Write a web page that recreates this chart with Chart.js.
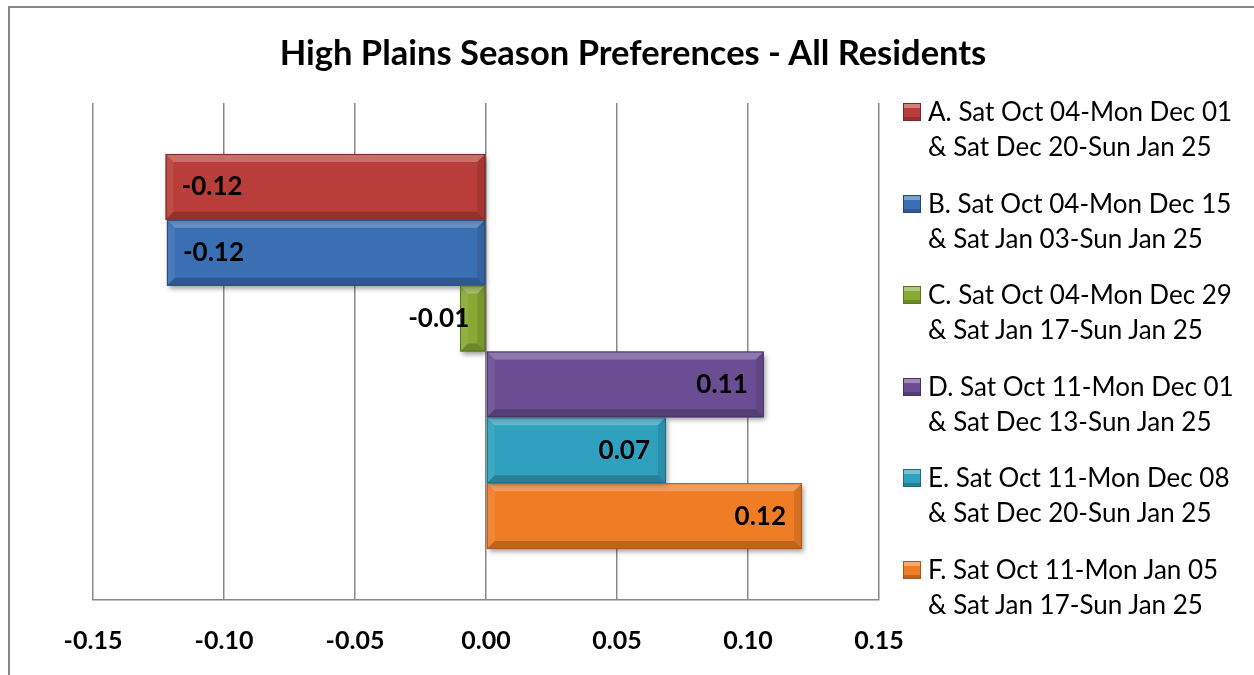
<!DOCTYPE html>
<html>
<head>
<meta charset="utf-8">
<script src="https://cdn.jsdelivr.net/npm/chart.js@4.4.1/dist/chart.umd.min.js"></script>
<style>
  body { margin: 0; background: #fff; font-family: Lato, "Open Sans", sans-serif; }
  #wrap { position: relative; width: 1254px; height: 675px; overflow: hidden; }
  #frame { position: absolute; left: 8px; top: 6px; width: 1400px; height: 800px;
           border-left: 2px solid #878787; border-top: 2px solid #878787; }
  #c { position: absolute; left: 0; top: 0; }
  #title { position: absolute; left: 0; width: 1266px; top: 32px; text-align: center;
           font: bold 34.5px/40px Lato, sans-serif; color: #000; white-space: nowrap; }
  .item { position: absolute; left: 903px; }
  .swatch { position: absolute; left: 0; width: 18px; height: 18px; box-sizing: border-box; }
  .text { position: absolute; left: 25px; top: 0; font: 26px/35px Lato, sans-serif;
          color: #000; white-space: nowrap; }
</style>
</head>
<body>
<div id="wrap">
  <div id="frame"></div>
  <canvas id="c" width="1254" height="675"></canvas>
  <div id="title"></div>
  <div id="legend"></div>
</div>
<script>
const chartTitle = "High Plains Season Preferences - All Residents";
const categories = [""];
const seriesNames = [
  ["A. Sat Oct 04-Mon Dec 01", "& Sat Dec 20-Sun Jan 25"],
  ["B. Sat Oct 04-Mon Dec 15", "& Sat Jan 03-Sun Jan 25"],
  ["C. Sat Oct 04-Mon Dec 29", "& Sat Jan 17-Sun Jan 25"],
  ["D. Sat Oct 11-Mon Dec 01", "& Sat Dec 13-Sun Jan 25"],
  ["E. Sat Oct 11-Mon Dec 08", "& Sat Dec 20-Sun Jan 25"],
  ["F. Sat Oct 11-Mon Jan 05", "& Sat Jan 17-Sun Jan 25"],
];
const seriesValues = [-0.1223, -0.1218, -0.0099, 0.106, 0.0687, 0.1206];
const seriesColors = ["#b93d3a", "#3b6fb4", "#88a934", "#6b4d93", "#2fa0be", "#ee7d26"];
const seriesBorders = ["#7d2624", "#264a7a", "#5b7322", "#463163", "#1f6c80", "#a8561a"];
const tickValues = [-0.15, -0.10, -0.05, 0.00, 0.05, 0.10, 0.15];
const tickLabels = ["-0.15", "-0.10", "-0.05", "0.00", "0.05", "0.10", "0.15"];

document.getElementById("title").textContent = chartTitle;

// legend on the right, as html
const legend = document.getElementById("legend");
legend.innerHTML = seriesNames
  .map((lines, i) => {
    const top = 94 + i * 91.6;
    const c = seriesColors[i];
    return `
    <div class="item" style="top:${top}px">
      <div class="swatch" style="top:9px;background:${c};border:1px solid ${seriesBorders[i]};
        box-shadow: inset 0 4px 0 rgba(255,255,255,0.35), inset 0 -3px 0 rgba(0,0,0,0.2);"></div>
      <div class="text">${lines.join("<br>")}</div>
    </div>`;
  })
  .join("");

// bevel + shadow + value labels, drawn on the bar elements from the library
const excelBars = {
  id: "excelBars",
  beforeDatasetsDraw(chart) {
    const ctx = chart.ctx;
    ctx.save();
    ctx.shadowColor = "rgba(0,0,0,0.4)";
    ctx.shadowBlur = 5;
    ctx.shadowOffsetX = 2;
    ctx.shadowOffsetY = 3;
  },
  afterDatasetsDraw(chart) {
    const ctx = chart.ctx;
    ctx.restore();
    const b = 8;
    chart.data.datasets.forEach((ds, i) => {
      const el = chart.getDatasetMeta(i).data[0];
      const L = Math.min(el.x, el.base), R = Math.max(el.x, el.base);
      const T = el.y - el.height / 2, B = el.y + el.height / 2;
      const bb = Math.min(b, (R - L) / 2);
      const poly = (pts, fill) => {
        ctx.beginPath();
        ctx.moveTo(pts[0][0], pts[0][1]);
        pts.slice(1).forEach((p) => ctx.lineTo(p[0], p[1]));
        ctx.closePath();
        ctx.fillStyle = fill;
        ctx.fill();
      };
      poly([[L, T], [R, T], [R - bb, T + bb], [L + bb, T + bb]], "rgba(255,255,255,0.25)");
      poly([[L, B], [R, B], [R - bb, B - bb], [L + bb, B - bb]], "rgba(0,0,0,0.2)");
      poly([[L, T], [L + bb, T + bb], [L + bb, B - bb], [L, B]], "rgba(255,255,255,0.08)");
      poly([[R, T], [R - bb, T + bb], [R - bb, B - bb], [R, B]], "rgba(0,0,0,0.1)");
      ctx.strokeStyle = seriesBorders[i];
      ctx.lineWidth = 1;
      ctx.strokeRect(L + 0.5, T + 0.5, R - L - 1, B - T - 1);
    });

    ctx.save();
    ctx.font = "bold 26px Lato, sans-serif";
    ctx.fillStyle = "#000";
    ctx.textBaseline = "middle";
    const pad = 16;
    chart.data.datasets.forEach((ds, i) => {
      const el = chart.getDatasetMeta(i).data[0];
      const v = ds.data[0];
      const txt = v.toFixed(2);
      const w = ctx.measureText(txt).width;
      const len = Math.abs(el.x - el.base);
      if (v < 0) {
        if (len >= w + 2 * pad) {
          ctx.textAlign = "left";
          ctx.fillText(txt, el.x + pad, el.y);
        } else {
          ctx.textAlign = "right";
          ctx.fillText(txt, el.base - pad, el.y);
        }
      } else {
        ctx.textAlign = "right";
        ctx.fillText(txt, el.x - pad, el.y);
      }
    });
    ctx.restore();
  },
};

new Chart(document.getElementById("c"), {
  type: "bar",
  data: {
    labels: categories,
    datasets: seriesNames.map((lines, i) => ({
      label: lines.join(" "),
      data: [seriesValues[i]],
      backgroundColor: seriesColors[i],
      borderWidth: 0,
      categoryPercentage: 0.795,
      barPercentage: 1.0,
    })),
  },
  options: {
    indexAxis: "y",
    responsive: false,
    animation: false,
    layout: { padding: { left: 93, right: 375, top: 103, bottom: 21 } },
    plugins: {
      legend: { display: false },
      title: { display: false },
      tooltip: { enabled: false },
    },
    scales: {
      x: {
        min: -0.15,
        max: 0.15,
        afterBuildTicks: (scale) => {
          scale.ticks = tickValues.map((v) => ({ value: v }));
        },
        afterFit: (scale) => {
          scale.height = 54;
        },
        ticks: {
          callback: (v, idx) => tickLabels[idx],
          font: { family: "Lato", weight: "bold", size: 25 },
          color: "#000",
          padding: 26,
          maxRotation: 0,
          autoSkip: false,
        },
        grid: { color: "#888", lineWidth: 1.5, drawTicks: false },
        border: { color: "#888", width: 1.5 },
      },
      y: { display: false },
    },
  },
  plugins: [excelBars],
});
</script>
</body>
</html>
